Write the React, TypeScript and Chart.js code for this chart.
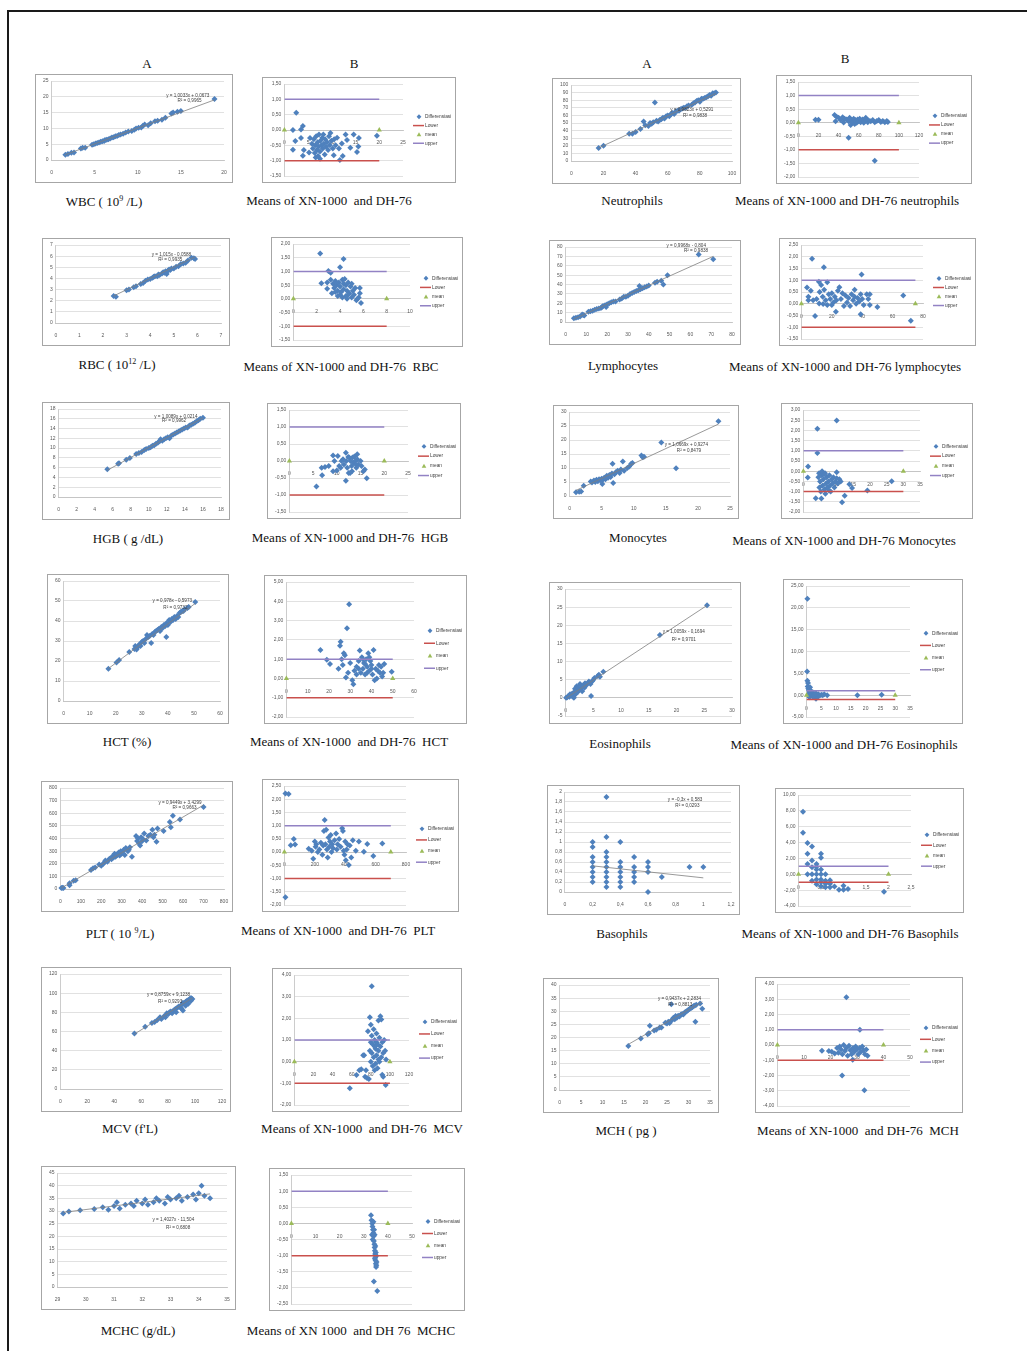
import React, { useEffect, useRef } from "react";
import { Chart, registerables } from "chart.js";
Chart.register(...registerables);

type Pt = [number, number];

// ---------------- DATA ----------------
const wbcA: Pt[] = [[1.6,1.7],[1.9,1.9],[2.3,2.3],[2.6,2.4],[3.4,3.6],[3.6,3.9],[3.9,3.9],[4.7,4.8],[4.9,5.0],[5.1,5.2],[5.3,5.4],[5.5,5.5],[5.7,5.8],[5.9,5.9],[6.1,6.0],[6.2,6.3],[6.4,6.4],[6.6,6.6],[6.8,6.8],[7.0,7.1],[7.2,7.2],[7.4,7.5],[7.6,7.6],[7.8,7.9],[8.0,8.1],[8.3,8.3],[8.6,8.7],[8.9,9.0],[9.3,9.2],[9.6,9.6],[9.8,10.0],[10.1,10.2],[10.4,10.3],[10.6,10.8],[10.8,11.2],[11.2,11.0],[11.5,11.6],[12.0,12.3],[12.3,12.4],[12.8,12.7],[13.2,13.4],[13.9,14.7],[14.1,15.0],[14.6,15.3],[15.0,15.5],[18.9,19.3]];
const wbcB: Pt[] = [[2.5,0.56],[1.8,0.0],[3.9,0.13],[3.5,0.02],[2.3,-0.36],[1.8,-0.64],[3.5,-0.26],[5.4,-0.26],[4.1,-0.65],[3.9,-0.84],[5.2,-0.73],[7.5,-0.94],[11.7,-0.98],[9.7,-0.1],[12.9,-0.15],[14.6,-0.15],[15.7,-0.26],[19.5,-0.19],[13.9,-0.58],[15.3,-0.72],[15.6,-0.54],[10.4,-0.82],[12.3,-0.85],[13.2,-0.33],[12.1,-0.44],[5.8,-0.45],[6.0,-0.6],[6.2,-0.3],[6.4,-0.75],[6.5,-0.5],[6.7,-0.2],[6.9,-0.65],[7.0,-0.4],[7.2,-0.55],[7.3,-0.15],[7.5,-0.7],[7.6,-0.35],[7.8,-0.5],[8.0,-0.25],[8.1,-0.6],[8.3,-0.45],[8.5,-0.8],[8.6,-0.3],[8.8,-0.55],[9.0,-0.4],[9.2,-0.65],[9.4,-0.2],[9.6,-0.5],[9.9,-0.35],[10.2,-0.6],[10.5,-0.3],[10.8,-0.5],[11.1,-0.25],[11.5,-0.6],[6.6,-0.9],[8.2,-0.15],[7.1,-0.85]];
const neutA: Pt[] = [[17,17],[20,20],[36,36],[38,36],[40,38],[43,42],[45,52],[46,47],[48,46],[49,50],[50,49],[51,51],[52,77],[53,53],[54,52],[55,54],[56,55],[57,57],[58,56],[59,59],[60,60],[61,59],[62,62],[63,63],[64,62],[65,65],[66,66],[67,66],[68,68],[69,69],[70,70],[71,70],[72,72],[73,73],[75,74],[76,76],[77,77],[78,79],[79,80],[80,78],[81,82],[82,82],[83,83],[84,84],[85,85],[86,87],[87,86],[88,89],[89,89],[90,90]];
const neutB: Pt[] = [[17,0.11],[20,0.11],[36,0.28],[37,0.05],[38,0.22],[40,0.18],[42,0.1],[44,0.2],[45,0.01],[46,0.15],[48,0.12],[50,0.05],[50,-0.55],[51,0.18],[52,-0.08],[53,0.1],[54,0.02],[55,0.15],[56,-0.05],[57,0.1],[58,0.0],[59,0.12],[60,0.05],[61,0.15],[62,0.02],[63,0.08],[64,0.12],[65,0.0],[66,0.05],[67,0.18],[68,0.1],[69,0.02],[70,0.08],[72,0.05],[74,0.1],[76,-1.4],[76,0.02],[78,0.06],[80,0.1],[82,0.03],[84,0.06],[86,0.02],[88,0.06],[89,0.03]];
const rbcA: Pt[] = [[2.45,2.42],[2.55,2.35],[3.0,2.95],[3.1,3.0],[3.3,3.2],[3.4,3.3],[3.6,3.5],[3.7,3.6],[3.8,3.8],[3.9,3.9],[4.0,3.95],[4.1,4.05],[4.15,4.15],[4.2,4.2],[4.3,4.2],[4.35,4.35],[4.4,4.3],[4.5,4.45],[4.55,4.55],[4.6,4.5],[4.65,4.65],[4.7,4.4],[4.75,4.7],[4.8,4.8],[4.85,4.75],[4.9,4.9],[5.0,4.9],[5.1,5.05],[5.2,5.1],[5.3,5.3],[5.4,5.35],[5.5,5.4],[5.6,5.6],[5.75,5.85],[5.85,5.8],[5.9,5.75]];
const rbcB: Pt[] = [[2.3,1.65],[2.4,0.57],[4.3,1.45],[4.0,1.15],[3.0,1.02],[3.2,0.95],[2.9,0.6],[2.9,0.37],[3.2,0.7],[3.4,0.55],[3.5,0.4],[3.6,0.65],[3.7,0.5],[3.8,0.3],[3.9,0.6],[4.0,0.45],[4.1,0.25],[4.2,0.7],[4.3,0.35],[4.4,0.72],[4.5,0.5],[4.5,0.1],[4.6,0.3],[4.7,0.6],[4.8,0.2],[4.9,0.45],[5.0,0.05],[5.0,0.55],[5.1,0.3],[5.2,0.15],[5.3,0.4],[5.4,-0.05],[5.5,0.0],[5.6,0.05],[5.7,0.4],[5.7,0.2],[5.8,-0.15],[3.3,0.2],[3.6,0.25],[4.0,0.15],[4.3,0.55],[4.6,0.0],[4.7,0.15],[4.2,0.05],[3.8,0.1]];
const lymA: Pt[] = [[4,4],[5,4.5],[6,5],[7,6],[8,8],[8.5,7.5],[9,7],[11,11],[12,11.5],[13,12],[14,13],[15,14],[16,14.5],[17,15],[17.5,16],[18,17],[19,18],[19.5,16],[20,19],[21,20],[22,21],[23,22],[24,22],[26,24],[27,25],[28,27],[29,27],[30,28],[31,30],[32,31],[33,32],[34,33],[35,34],[35.5,38.5],[36,35],[37,36],[38,37],[39,38],[40,39],[43,42],[44,43],[46,44],[47,40],[49,50],[64,72],[71,67]];
const lymB: Pt[] = [[7,1.92],[14.8,1.55],[39.6,1.25],[11.5,0.94],[17,0.92],[3.7,0.69],[6.2,0.55],[4.6,0.3],[4.6,0.15],[9,-0.52],[7.7,0.15],[11.7,0.01],[14.3,-0.01],[22.7,-0.34],[39,-0.45],[50,-0.14],[67,0.35],[72,-0.72],[12,0.5],[13,0.8],[14,0.3],[15,0.6],[16,0.15],[18,0.4],[19,0.2],[20,0.45],[21,0.05],[22,0.3],[23,0.15],[24,0.55],[25,0.7],[26,0.2],[27,0.45],[28,-0.1],[29,0.35],[30,0.05],[31,0.25],[32,-0.1],[33,0.4],[34,0.15],[35,0.6],[35,0.3],[36,0.0],[37,0.25],[38,0.1],[39,0.4],[40,0.2],[41,-0.05],[43,0.4],[44,0.2],[45,0.4],[45,-0.05],[10,0.2],[17,-0.05],[20,-0.05]];
const hgbA: Pt[] = [[5.4,5.7],[6.6,6.8],[6.7,6.9],[7.5,7.6],[7.9,8.0],[8.6,8.8],[8.9,9.0],[9.2,9.2],[9.5,9.6],[9.7,9.8],[10.0,10.0],[10.2,10.2],[10.4,10.5],[10.6,10.6],[10.8,10.9],[11.0,11.1],[11.2,11.4],[11.3,11.8],[11.5,11.5],[11.7,11.8],[11.9,12.0],[12.1,12.2],[12.3,12.0],[12.5,12.6],[12.7,12.8],[12.9,13.0],[13.1,13.2],[13.3,13.4],[13.5,13.6],[13.7,13.8],[13.9,14.0],[14.1,14.2],[14.3,14.2],[14.5,14.6],[14.7,14.8],[14.9,15.0],[15.1,15.2],[15.3,15.5],[15.5,15.7],[15.7,16.0],[16.0,16.2]];
const hgbB: Pt[] = [[5.7,-0.75],[6.9,-0.42],[6.8,-0.2],[7.5,-0.18],[8.3,-0.15],[9.2,0.16],[10.2,0.15],[9.2,-0.3],[9.5,0.0],[10,-0.28],[10.5,-0.15],[11,0.0],[11.5,-0.1],[12,0.0],[12.2,-0.2],[11.9,-0.58],[11.9,0.24],[12.5,-0.35],[12.6,0.1],[12.9,0.0],[13.1,-0.15],[13.3,0.1],[13.5,-0.05],[13.7,0.13],[13.9,0.0],[14.1,-0.2],[14.3,0.05],[14.5,-0.1],[14.3,0.2],[15,0.0],[15.2,-0.15],[15.6,-0.3],[15.9,-0.25],[16.3,-0.51],[12.8,-0.35],[11.3,0.05],[13.2,-0.3],[14.0,-0.1],[12.4,0.12],[10.8,-0.2]];
const monoA: Pt[] = [[1.0,1.3],[1.5,1.5],[1.8,1.6],[2.2,3.7],[3.3,5.2],[3.5,4.8],[3.8,5.5],[4.0,5.0],[4.2,5.8],[4.4,5.3],[4.6,6.0],[4.8,5.6],[5.0,6.2],[5.1,4.3],[5.2,5.8],[5.4,6.5],[5.6,6.0],[5.8,7.2],[6.0,6.5],[6.2,7.5],[6.4,6.8],[6.6,8.0],[6.7,11.5],[6.8,4.6],[7.0,7.8],[7.2,8.5],[7.5,9.0],[7.8,8.2],[8.0,9.5],[8.3,12.3],[8.5,9.0],[9.0,10.0],[9.3,10.5],[9.6,11.5],[9.8,11.8],[11.2,14.5],[11.4,13.8],[11.6,14.0],[14.3,19.1],[16.6,9.9],[23.2,26.7]];
const monoB: Pt[] = [[4.2,2.08],[10,2.49],[4.2,0.89],[1.4,0.23],[1.3,-0.31],[3.7,-1.33],[5.4,-1.34],[11.6,-1.52],[12.4,-1.2],[13.8,-0.64],[14.6,-0.82],[19.2,-0.95],[26.5,-0.49],[4.7,-0.1],[4.5,-0.3],[5.0,-0.5],[5.5,-0.2],[5.8,-0.7],[6.0,-0.4],[6.3,-0.9],[6.5,-0.1],[6.8,-0.6],[7.0,-0.3],[7.2,-0.8],[7.5,-0.5],[7.8,-0.2],[8.0,-0.7],[8.2,-1.0],[8.5,-0.4],[8.8,-0.6],[9.0,-0.3],[9.3,-0.8],[9.6,-0.5],[10.0,-0.35],[10.3,-0.6],[10.8,-0.4],[11.2,-0.5],[5.2,-1.0],[6.6,-1.1],[7.7,-0.95],[4.8,-0.8],[5.6,0.0],[6.2,-0.15],[10.0,-0.05]];
const hctA: Pt[] = [[17.2,16.1],[20.3,19.2],[21.3,20.5],[25.2,24.5],[27.2,26.0],[27.5,27.5],[28.0,25.8],[28.5,27.0],[29.0,28.2],[29.5,27.5],[30.0,29.5],[30.5,30.0],[31.0,29.0],[31.5,31.0],[32.0,33.0],[32.5,32.0],[33.0,32.5],[33.6,29.0],[34.0,33.5],[34.5,33.0],[35.0,34.5],[35.5,35.0],[36.0,35.5],[36.5,36.0],[37.0,35.0],[37.5,37.0],[38.0,36.5],[38.5,38.0],[39.0,37.5],[39.4,32.0],[39.5,39.0],[40.0,38.0],[40.5,40.5],[41.0,39.5],[41.5,41.0],[42.0,40.5],[42.5,42.0],[43.0,41.0],[43.5,42.5],[44.0,42.0],[44.5,44.0],[45.0,44.5],[45.5,45.0],[46.0,45.0],[46.5,46.0],[47.5,46.5],[48.0,47.0],[50.5,49.5]];
const hctB: Pt[] = [[29.5,3.84],[28.5,2.6],[25.5,1.9],[25.2,1.7],[16,1.48],[19,0.97],[20.5,0.75],[24.5,0.5],[26,1.0],[27,1.3],[27.5,1.2],[26.5,0.7],[28,0.05],[29,0.3],[30,0.8],[31,-0.1],[31.5,-0.3],[32,0.4],[33,0.6],[34,0.9],[34.5,1.45],[35,0.3],[35.5,1.1],[36,0.5],[36.5,0.8],[37,0.2],[37.5,1.0],[38,0.6],[38.5,1.3],[39,0.4],[39.5,0.9],[40,0.7],[40.5,0.2],[41,1.48],[41.5,-0.1],[42,0.5],[42.5,0.0],[43,0.4],[43.5,0.7],[44,0.3],[44.5,0.6],[45,0.1],[45.5,0.3],[46,0.75],[49.5,0.35],[34,0.5],[36,1.0],[38,0.3],[40,0.5],[33,0.2],[37,0.75],[39,1.1]];
const eosA: Pt[] = [[0.1,0.0],[0.3,0.2],[0.5,0.5],[0.7,0.3],[0.8,1.0],[1.0,0.6],[1.2,1.2],[1.3,0.4],[1.5,1.5],[1.5,0.0],[1.7,2.5],[1.8,1.0],[2.0,3.2],[2.0,2.0],[2.2,1.6],[2.3,2.8],[2.5,2.2],[2.6,3.8],[2.8,2.6],[3.0,3.0],[3.0,1.8],[3.2,3.5],[3.4,2.8],[3.5,4.0],[3.7,3.4],[4.0,4.0],[4.2,4.5],[4.5,3.8],[4.6,0.5],[4.8,4.6],[5.0,5.0],[5.2,5.5],[5.8,6.0],[6.0,6.4],[6.2,5.8],[6.8,7.2],[17.0,17.3],[25.5,25.5]];
const eosB: Pt[] = [[0.3,22.1],[0.2,5.4],[0.3,3.3],[0.5,2.8],[0.4,2.0],[0.6,1.5],[0.8,1.2],[1.0,0.8],[1.2,1.8],[1.5,0.5],[1.8,0.2],[2.0,-0.3],[2.2,0.6],[2.5,0.1],[2.8,-0.5],[3.0,0.3],[3.2,-0.8],[3.5,0.0],[3.8,-0.4],[4.0,0.2],[4.5,-0.1],[5.0,0.1],[5.5,0.0],[6.0,0.2],[7.0,0.0],[17.2,0.0],[25.4,0.1],[1.0,-0.5],[1.5,1.0],[0.8,0.3],[2.3,-0.2],[3.3,0.4]];
const pltA: Pt[] = [[5,8],[10,10],[15,8],[45,30],[45,45],[65,65],[75,70],[150,150],[160,165],[170,170],[190,195],[200,185],[210,200],[215,210],[220,225],[230,215],[240,240],[250,235],[255,260],[260,250],[265,280],[270,255],[280,270],[285,290],[290,265],[295,300],[300,280],[305,295],[310,310],[315,270],[320,325],[330,300],[335,310],[340,330],[350,255],[370,420],[375,380],[380,400],[385,360],[390,345],[395,410],[400,380],[405,395],[410,440],[420,385],[430,420],[440,430],[450,470],[455,410],[460,430],[470,375],[475,480],[505,460],[535,530],[540,490],[550,580],[585,550],[700,650]];
const pltB: Pt[] = [[7,2.22],[28,2.2],[7,-1.71],[42,0.26],[62,0.5],[70,0.29],[160,0.13],[180,0.05],[190,-0.25],[200,0.4],[205,0.2],[210,0.3],[220,0.0],[230,0.1],[240,0.35],[250,-0.1],[255,0.25],[260,0.8],[265,1.21],[270,0.3],[275,0.85],[280,0.1],[285,-0.2],[290,0.55],[295,0.2],[300,0.4],[305,0.65],[310,0.0],[315,0.3],[320,0.15],[330,0.45],[340,0.7],[345,0.1],[350,0.3],[360,0.5],[370,0.2],[380,0.9],[385,0.8],[390,0.05],[395,-0.1],[400,0.4],[404,-0.31],[410,0.1],[415,0.3],[424,-0.49],[430,0.25],[440,-0.2],[450,0.45],[470,0.05],[490,0.4],[523,0.01],[545,0.31],[585,-0.15],[644,0.33]];
const basoA: Pt[] = [[0.2,1.0],[0.2,0.9],[0.2,0.7],[0.2,0.6],[0.2,0.5],[0.2,0.4],[0.2,0.3],[0.2,0.2],[0.3,1.9],[0.3,1.1],[0.3,0.8],[0.3,0.7],[0.3,0.6],[0.3,0.5],[0.3,0.4],[0.3,0.3],[0.3,0.2],[0.3,0.1],[0.4,1.0],[0.4,0.6],[0.4,0.5],[0.4,0.4],[0.4,0.3],[0.4,0.2],[0.4,0.1],[0.5,0.7],[0.5,0.5],[0.5,0.4],[0.5,0.3],[0.5,0.2],[0.6,0.6],[0.6,0.5],[0.6,0.4],[0.6,0.0],[0.7,0.3],[0.9,0.5],[1.0,0.5]];
const basoB: Pt[] = [[0.1,7.9],[0.1,5.25],[0.2,3.96],[0.3,3.5],[0.2,2.6],[0.3,1.75],[0.2,1.3],[0.5,2.6],[0.5,2.1],[0.4,1.3],[0.4,0.95],[0.3,0.9],[0.5,0.6],[0.2,0.0],[0.3,0.0],[0.4,0.0],[0.5,0.0],[0.6,0.0],[0.3,-0.8],[0.4,-0.65],[0.5,-0.65],[0.4,-1.25],[0.5,-1.5],[0.6,-0.8],[0.6,-1.65],[0.7,-0.75],[0.7,-1.65],[0.8,-1.55],[0.9,-1.95],[1.0,-1.95],[1.0,-1.45],[1.1,-1.85],[1.9,-2.2],[0.4,0.6],[0.5,-1.0],[0.6,-1.2],[0.7,-1.2]];
const mcvA: Pt[] = [[55,58],[63,65],[68,69],[70,70],[72,72],[74,75],[75,73],[77,76],[78,75],[79,79],[80,78],[81,80],[82,81],[83,79],[84,82],[85,83],[86,84],[86,80],[87,85],[88,86],[89,85],[90,88],[90,84],[91,90],[91,82],[92,89],[93,91],[93,87],[94,92],[95,93],[95,89],[96,94],[97,95],[97,92],[98,94]];
const mcvB: Pt[] = [[81,3.48],[58,-1.23],[95.6,-1.08],[65,-0.62],[68,-0.4],[70,-0.35],[72,0.3],[73,0.3],[74,-0.7],[75,-0.4],[76,-0.75],[77,1.4],[78,-0.8],[79,0.5],[79,2.05],[80,1.7],[80,0.9],[80,0.0],[81,1.2],[81,0.4],[82,-0.2],[82,0.8],[83,1.5],[83,0.2],[84,-0.4],[84,1.0],[85,0.6],[85,-0.1],[86,1.3],[86,0.3],[87,0.8],[87,-0.3],[88,1.9],[88,0.5],[89,1.1],[89,0.0],[90,2.1],[90,0.7],[91,1.95],[91,0.2],[92,-0.6],[92,0.9],[93,-0.7],[93,0.4],[94,1.0],[95,0.5],[96,0.1],[84,0.7],[86,0.9],[88,0.1]];
const mchA: Pt[] = [[16,16.8],[18.9,19.6],[20.5,21.2],[20.8,21.6],[21,24.5],[22,22.7],[22.5,23.0],[23.3,23.8],[23.7,23.8],[24.6,25.6],[25,25.3],[25.3,26.0],[25.6,25.5],[25.9,26.3],[26,32.7],[26.2,26.8],[26.5,27.5],[26.8,27.0],[27,28.2],[27.3,27.5],[27.6,28.3],[27.9,28.0],[28.2,28.7],[28.5,29.0],[28.8,28.8],[29.1,29.5],[29.4,29.8],[29.7,30.2],[30,30.6],[30.3,31.0],[30.6,31.2],[30.9,31.5],[31.2,32.0],[31.5,32.2],[31.6,26.0],[31.8,32.5],[32.7,33.0],[33.2,31.0]];
const mchB: Pt[] = [[16.8,-0.38],[19.4,-0.4],[20.5,-0.45],[21.6,-0.56],[22.5,-0.2],[23,-0.5],[23.5,-0.1],[24,-0.3],[24.5,-0.6],[25,0.0],[25.5,-0.4],[26,-0.2],[26.5,-0.7],[27,-0.05],[27.5,-0.35],[28,-0.6],[28.4,-0.96],[28.5,-0.2],[29,-0.45],[29.5,-0.1],[30,-0.3],[30.5,-0.6],[31,-0.2],[31.5,-0.45],[32,-0.1],[32.5,-0.35],[33,-0.6],[33.5,-0.3],[34,-0.7],[26,3.13],[31.1,1.0],[24.4,-2.0],[32.8,-2.96]];
const mchcA: Pt[] = [[29.2,29.0],[29.4,29.8],[29.8,30.3],[30.3,30.8],[30.6,31.5],[30.8,30.5],[31.0,32.0],[31.1,33.5],[31.2,31.0],[31.4,32.5],[31.6,33.0],[31.7,32.0],[31.8,34.0],[32.0,33.0],[32.1,34.5],[32.2,32.5],[32.4,33.5],[32.5,35.0],[32.6,34.0],[32.8,33.0],[32.9,35.5],[33.0,34.5],[33.2,35.0],[33.3,36.0],[33.4,34.0],[33.6,35.5],[33.8,36.5],[33.9,34.5],[34.0,37.0],[34.1,40.0],[34.2,36.0],[34.4,35.0]];
const mchcB: Pt[] = [[33,0.25],[33.2,0.1],[33.5,0.0],[33.6,-0.1],[33.8,-0.2],[34,-0.3],[34.1,-0.4],[34.2,-0.55],[34.4,-0.65],[34.5,-0.75],[34.6,-0.85],[34.7,-0.95],[34.8,-1.05],[34.9,-1.15],[35,-1.25],[35.1,-1.35],[35.2,-1.3],[34.3,-0.2],[34.0,0.05],[33.7,-0.5],[34.5,-0.35],[34.8,-0.7],[35.0,-0.9],[35.2,-1.0],[34.6,-1.1],[35.3,-1.2],[34.2,-1.8],[35.6,-2.1],[33.4,-0.35]];

// legend labels
const legendLabels = ["Differensiasi", "Lower", "mean", "upper"];

// ---------------- STYLE / LAYOUT ----------------
const BLUE = "#4F81BD";
const RED = "#C9504D";
const GREEN = "#9BBB59";
const PURPLE = "#9282C4";
const GRID = "#d9d9d9";
const AXIS = "#bfbfbf";
const TICK = "#595959";
const FONT = "'Liberation Sans', Arial, sans-serif";

interface Def {
  kind: "A" | "B";
  box: [number, number, number, number];
  xs: [number, number, number];
  ys: [number, number, number];
  pts: Pt[];
  trend?: [number, number];
  eq?: string[];
  eqAt?: Pt[];
  limit?: number;
  cross?: boolean;
}

const defs: Def[] = [
  { kind: "A", box: [35, 74, 198, 109], xs: [0, 20, 5], ys: [0, 25, 5], pts: wbcA, trend: [1.0033, 0.0673], eq: ["y = 1,0033x + 0,0673", "R² = 0,9965"], eqAt: [[15.8, 20.4], [16, 18.8]] },
  { kind: "B", box: [262, 77, 194, 106], xs: [0, 25, 5], ys: [-1.5, 1.5, 0.5], pts: wbcB, limit: 20 },
  { kind: "A", box: [552, 78, 189, 106], xs: [0, 100, 20], ys: [0, 100, 10], pts: neutA, trend: [0.9823, 0.5291], eq: ["y = 0,9823x + 0,5291", "R² = 0,9838"], eqAt: [[75, 67], [77, 60]] },
  { kind: "B", box: [776, 75, 196, 109], xs: [0, 120, 20], ys: [-2, 1.5, 0.5], pts: neutB, limit: 100 },
  { kind: "A", box: [42, 238, 188, 108], xs: [0, 7, 1], ys: [0, 7, 1], pts: rbcA, trend: [1.015, -0.0588], eq: ["y = 1,015x - 0,0588", "R² = 0,9935"], eqAt: [[4.9, 6.1], [4.85, 5.65]] },
  { kind: "B", box: [271, 237, 192, 110], xs: [0, 10, 2], ys: [-1.5, 2, 0.5], pts: rbcB, limit: 8 },
  { kind: "A", box: [549, 240, 192, 105], xs: [0, 80, 10], ys: [0, 80, 10], pts: lymA, trend: [0.9968, -0.804], eq: ["y = 0,9968x - 0,804", "R² = 0,9838"], eqAt: [[58, 81], [62.7, 76]] },
  { kind: "B", box: [779, 238, 197, 108], xs: [0, 80, 20], ys: [-1.5, 2.5, 0.5], pts: lymB, limit: 75 },
  { kind: "A", box: [42, 402, 188, 118], xs: [0, 18, 2], ys: [0, 18, 2], pts: hgbA, trend: [1.0089, 0.0214], eq: ["y = 1,0089x + 0,0214", "R² = 0,9962"], eqAt: [[13, 16.5], [12.8, 15.5]] },
  { kind: "B", box: [267, 403, 194, 116], xs: [0, 25, 5], ys: [-1.5, 1.5, 0.5], pts: hgbB, limit: 20 },
  { kind: "A", box: [553, 405, 186, 114], xs: [0, 25, 5], ys: [0, 30, 5], pts: monoA, trend: [1.0669, 0.9274], eq: ["y = 1,0669x + 0,9274", "R² = 0,8479"], eqAt: [[18.2, 18.2], [18.6, 16.3]] },
  { kind: "B", box: [781, 403, 192, 116], xs: [0, 35, 5], ys: [-2, 3, 0.5], pts: monoB, limit: 30 },
  { kind: "A", box: [47, 574, 182, 150], xs: [0, 60, 10], ys: [0, 60, 10], pts: hctA, trend: [0.978, -0.5973], eq: ["y = 0,978x - 0,5973", "R² = 0,9732"], eqAt: [[41.7, 50], [42.9, 46.8]] },
  { kind: "B", box: [264, 575, 203, 149], xs: [0, 60, 10], ys: [-2, 5, 1], pts: hctB, limit: 50 },
  { kind: "A", box: [549, 582, 192, 142], xs: [0, 30, 5], ys: [-5, 30, 5], pts: eosA, trend: [1.0059, -0.1694], eq: ["y = 1,0059x - 0,1694", "R² = 0,9701"], eqAt: [[21.3, 18.3], [21.3, 16.05]], cross: true },
  { kind: "B", box: [783, 579, 180, 145], xs: [0, 35, 5], ys: [-5, 25, 5], pts: eosB, limit: 30 },
  { kind: "A", box: [41, 781, 192, 131], xs: [0, 800, 100], ys: [0, 800, 100], pts: pltA, trend: [0.9449, 3.4299], eq: ["y = 0,9449x + 3,4299", "R² = 0,9663"], eqAt: [[585, 687], [607, 643]] },
  { kind: "B", box: [262, 779, 197, 133], xs: [0, 800, 200], ys: [-2, 2.5, 0.5], pts: pltB, limit: 700 },
  { kind: "A", box: [547, 785, 193, 130], xs: [0, 1.2, 0.2], ys: [0, 2, 0.2], pts: basoA, trend: [-0.3, 0.583], eq: ["y = -0,3x + 0,583", "R² = 0,0293"], eqAt: [[0.868, 1.845], [0.885, 1.735]] },
  { kind: "B", box: [775, 788, 189, 125], xs: [0, 2.5, 0.5], ys: [-4, 10, 2], pts: basoB, limit: 2 },
  { kind: "A", box: [41, 967, 190, 145], xs: [0, 120, 20], ys: [0, 120, 20], pts: mcvA, trend: [0.8759, 9.1238], eq: ["y = 0,8759x + 9,1238", "R² = 0,9293"], eqAt: [[80.3, 98.3], [81.5, 91]] },
  { kind: "B", box: [272, 968, 190, 144], xs: [0, 120, 20], ys: [-2, 4, 1], pts: mcvB, limit: 100 },
  { kind: "A", box: [543, 978, 176, 135], xs: [0, 35, 5], ys: [0, 40, 5], pts: mchA, trend: [0.9437, 2.2834], eq: ["y = 0,9437x + 2,2834", "R² = 0,8813"], eqAt: [[27.9, 34.7], [28.1, 32.5]] },
  { kind: "B", box: [755, 977, 208, 136], xs: [0, 50, 10], ys: [-4, 4, 1], pts: mchB, limit: 40 },
  { kind: "A", box: [41, 1166, 195, 144], xs: [29, 35, 1], ys: [0, 45, 5], pts: mchcA, trend: [1.4027, -11.504], eq: ["y = 1,4027x - 11,504", "R² = 0,6808"], eqAt: [[33.1, 26.4], [33.27, 23.4]] },
  { kind: "B", box: [269, 1168, 196, 143], xs: [0, 50, 10], ys: [-2.5, 1.5, 0.5], pts: mchcB, limit: 40 },
];

const labels: { t: React.ReactNode; cx: number; cy: number }[] = [
  { t: "A", cx: 147, cy: 63 },
  { t: "B", cx: 354, cy: 63 },
  { t: "A", cx: 647, cy: 63 },
  { t: "B", cx: 845, cy: 58 },
  { t: <>WBC ( 10<sup style={{ fontSize: 8 }}>9</sup> /L)</>, cx: 104, cy: 200 },
  { t: "Means of XN-1000  and DH-76", cx: 329, cy: 200 },
  { t: "Neutrophils", cx: 632, cy: 200 },
  { t: "Means of XN-1000 and DH-76 neutrophils", cx: 847, cy: 200 },
  { t: <>RBC ( 10<sup style={{ fontSize: 8 }}>12</sup> /L)</>, cx: 117, cy: 363 },
  { t: "Means of XN-1000 and DH-76  RBC", cx: 341, cy: 366 },
  { t: "Lymphocytes", cx: 623, cy: 365 },
  { t: "Means of XN-1000 and DH-76 lymphocytes", cx: 845, cy: 366 },
  { t: "HGB ( g /dL)", cx: 128, cy: 538 },
  { t: "Means of XN-1000 and DH-76  HGB", cx: 350, cy: 537 },
  { t: "Monocytes", cx: 638, cy: 537 },
  { t: "Means of XN-1000 and DH-76 Monocytes", cx: 844, cy: 540 },
  { t: "HCT (%)", cx: 127, cy: 741 },
  { t: "Means of XN-1000  and DH-76  HCT", cx: 349, cy: 741 },
  { t: "Eosinophils", cx: 620, cy: 743 },
  { t: "Means of XN-1000 and DH-76 Eosinophils", cx: 844, cy: 744 },
  { t: <>PLT ( 10 <sup style={{ fontSize: 8 }}>9</sup>/L)</>, cx: 120, cy: 932 },
  { t: "Means of XN-1000  and DH-76  PLT", cx: 338, cy: 930 },
  { t: "Basophils", cx: 622, cy: 933 },
  { t: "Means of XN-1000 and DH-76 Basophils", cx: 850, cy: 933 },
  { t: "MCV (f'L)", cx: 130, cy: 1128 },
  { t: "Means of XN-1000  and DH-76  MCV", cx: 362, cy: 1128 },
  { t: "MCH ( pg )", cx: 626, cy: 1130 },
  { t: "Means of XN-1000  and DH-76  MCH", cx: 858, cy: 1130 },
  { t: "MCHC (g/dL)", cx: 138, cy: 1330 },
  { t: "Means of XN 1000  and DH 76  MCHC", cx: 351, cy: 1330 },
];

function fmtB(v: number) {
  return v.toFixed(2).replace(".", ",");
}
function fmtA(v: number) {
  return String(Math.round(v * 1000) / 1000).replace(".", ",");
}

function makePlugin(d: Def) {
  return {
    id: "extras",
    afterDraw(chart: any) {
      const ctx = chart.ctx as CanvasRenderingContext2D;
      ctx.save();
      if (d.eq && d.eqAt) {
        ctx.font = `4.6px ${FONT}`;
        ctx.fillStyle = "#404040";
        ctx.textAlign = "center";
        ctx.textBaseline = "middle";
        d.eq.forEach((s, i) => {
          const [ex, ey] = d.eqAt![i];
          ctx.fillText(s, chart.scales.x.getPixelForValue(ex), chart.scales.y.getPixelForValue(ey));
        });
      }
      if (d.kind === "B") {
        const W = chart.width;
        const H = chart.height;
        const sp = H * 0.085;
        const cy = H / 2;
        const mx = W - 36;
        ctx.font = `4.8px ${FONT}`;
        ctx.textAlign = "left";
        ctx.textBaseline = "middle";
        legendLabels.forEach((lab, i) => {
          const y = cy + (i - 1.5) * sp;
          if (i === 0) {
            ctx.fillStyle = BLUE;
            ctx.beginPath();
            ctx.moveTo(mx, y - 2.4);
            ctx.lineTo(mx + 2.4, y);
            ctx.lineTo(mx, y + 2.4);
            ctx.lineTo(mx - 2.4, y);
            ctx.closePath();
            ctx.fill();
          } else if (i === 2) {
            ctx.fillStyle = GREEN;
            ctx.beginPath();
            ctx.moveTo(mx, y - 2.2);
            ctx.lineTo(mx + 2.3, y + 1.8);
            ctx.lineTo(mx - 2.3, y + 1.8);
            ctx.closePath();
            ctx.fill();
          } else {
            ctx.strokeStyle = i === 1 ? RED : PURPLE;
            ctx.lineWidth = 1.5;
            ctx.beginPath();
            ctx.moveTo(mx - 6, y);
            ctx.lineTo(mx + 5, y);
            ctx.stroke();
          }
          ctx.fillStyle = "#404040";
          ctx.fillText(lab, W - 30, y);
        });
      }
      ctx.restore();
    },
  };
}

function buildConfig(d: Def): any {
  const tickFont = { family: FONT, size: 5 };
  const datasets: any[] = [];
  datasets.push({
    label: "Differensiasi",
    data: d.pts.map(([x, y]) => ({ x, y })),
    pointStyle: "rectRot",
    pointRadius: 3,
    backgroundColor: BLUE,
    borderColor: BLUE,
    borderWidth: 0,
    showLine: false,
    clip: 4,
    order: d.kind === "A" ? 1 : 3,
  });
  if (d.kind === "A" && d.trend) {
    const xsv = d.pts.map((p) => p[0]);
    const x0 = Math.min(...xsv);
    const x1 = Math.max(...xsv);
    const [m, b] = d.trend;
    datasets.push({
      label: "trend",
      data: [{ x: x0, y: m * x0 + b }, { x: x1, y: m * x1 + b }],
      showLine: true,
      borderColor: "#7f7f7f",
      borderWidth: 0.8,
      pointRadius: 0,
      order: 0,
    });
  }
  if (d.kind === "B") {
    const L = d.limit!;
    datasets.push({
      label: "Lower",
      data: [{ x: 0, y: -1 }, { x: L, y: -1 }],
      showLine: true,
      borderColor: RED,
      borderWidth: 1.5,
      pointRadius: 0,
      order: 2,
    });
    datasets.push({
      label: "mean",
      data: [{ x: 0, y: 0 }, { x: L, y: 0 }],
      showLine: false,
      pointStyle: "triangle",
      pointRadius: 3,
      backgroundColor: GREEN,
      borderColor: GREEN,
      borderWidth: 0,
      clip: 6,
      order: 1,
    });
    datasets.push({
      label: "upper",
      data: [{ x: 0, y: 1 }, { x: L, y: 1 }],
      showLine: true,
      borderColor: PURPLE,
      borderWidth: 1.5,
      pointRadius: 0,
      order: 0,
    });
  }
  const crossing = d.kind === "B" || d.cross;
  return {
    type: "scatter",
    data: { datasets },
    options: {
      animation: false,
      responsive: false,
      devicePixelRatio: 1,
      events: [],
      layout: {
        padding:
          d.kind === "A"
            ? { left: 4, right: 8, top: 5, bottom: d.cross ? 7 : 4 }
            : { left: 4, right: 52, top: 5, bottom: 5 },
      },
      plugins: { legend: { display: false }, tooltip: { enabled: false } },
      scales: {
        x: {
          type: "linear",
          min: d.xs[0],
          max: d.xs[1],
          position: crossing ? { y: 0 } : "bottom",
          grid: { display: false },
          border: { display: true, color: AXIS, width: 0.8 },
          ticks: {
            stepSize: d.xs[2],
            autoSkip: false,
            maxRotation: 0,
            padding: 2,
            color: TICK,
            font: tickFont,
            callback: (v: number) => fmtA(v),
          },
        },
        y: {
          type: "linear",
          min: d.ys[0],
          max: d.ys[1],
          grid: { color: GRID, lineWidth: 0.8, drawTicks: false },
          border: { display: true, color: AXIS, width: 0.8 },
          ticks: {
            stepSize: d.ys[2],
            autoSkip: false,
            padding: 3,
            color: TICK,
            font: tickFont,
            callback: (v: number) => (d.kind === "B" ? fmtB(v) : fmtA(v)),
          },
        },
      },
    },
    plugins: [makePlugin(d)],
  };
}

function Panel({ d }: { d: Def }) {
  const ref = useRef<HTMLCanvasElement>(null);
  useEffect(() => {
    const c = new Chart(ref.current!, buildConfig(d));
    return () => c.destroy();
  }, [d]);
  const [x, y, w, h] = d.box;
  return (
    <div
      style={{
        position: "absolute",
        left: x,
        top: y,
        width: w,
        height: h,
        border: "1px solid #a6a6a6",
        boxSizing: "border-box",
        background: "#fff",
      }}
    >
      <canvas ref={ref} width={w - 2} height={h - 2} style={{ display: "block", width: w - 2, height: h - 2 }} />
    </div>
  );
}

export default function App() {
  return (
    <div style={{ position: "absolute", left: 0, top: 0, width: 1027, height: 1351, background: "#fff", overflow: "hidden" }}>
      <div
        style={{
          position: "absolute",
          left: 7,
          top: 10,
          width: 1040,
          height: 1400,
          borderTop: "2px solid #1a1a1a",
          borderLeft: "2px solid #1a1a1a",
        }}
      />
      {defs.map((d, i) => (
        <Panel key={i} d={d} />
      ))}
      {labels.map((l, i) => (
        <div
          key={"l" + i}
          style={{
            position: "absolute",
            left: l.cx,
            top: l.cy,
            transform: "translate(-50%, -50%)",
            whiteSpace: "pre",
            fontFamily: "'Liberation Serif', 'Times New Roman', serif",
            fontSize: 13,
            color: "#111",
            lineHeight: "15px",
          }}
        >
          {l.t}
        </div>
      ))}
    </div>
  );
}
